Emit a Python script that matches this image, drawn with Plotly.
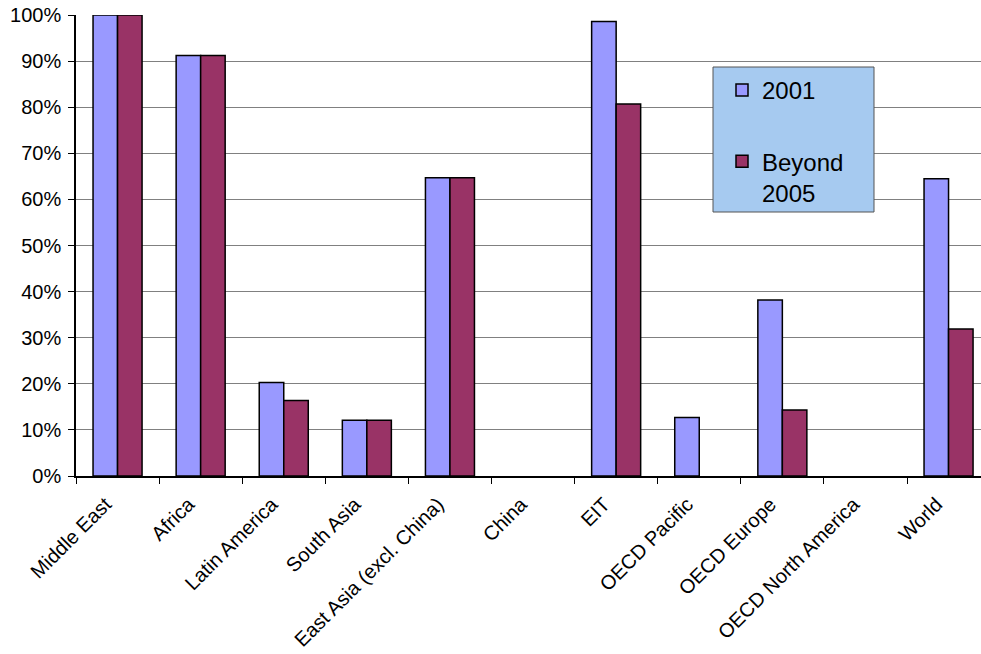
import plotly.graph_objects as go

regions = ["Middle East", "Africa", "Latin America", "South Asia",
           "East Asia (excl. China)", "China", "EIT", "OECD Pacific",
           "OECD Europe", "OECD North America", "World"]
share_2001 = [1.000, 0.912, 0.203, 0.121, 0.647, 0.0, 0.986, 0.127, 0.382, 0.0, 0.645]
share_beyond_2005 = [1.000, 0.912, 0.164, 0.121, 0.647, 0.0, 0.807, 0.0, 0.143, 0.0, 0.319]
series_names = ["2001", "Beyond<br>2005"]
y_ticks = [0.0, 0.1, 0.2, 0.3, 0.4, 0.5, 0.6, 0.7, 0.8, 0.9, 1.0]

FONT = "Liberation Sans, Arial, sans-serif"
colors = ["#9999FF", "#993366"]

# plot area in pixels
L, T, B, W, H = 76, 15, 178, 905, 461
CAT_W = 83.1


def px_x(px):
    return (px - L) / W


def px_y(py):
    return (T + H - py) / H


fig = go.Figure()
for i, (name, vals) in enumerate(zip(series_names, [share_2001, share_beyond_2005])):
    # zero shares are left empty rather than drawn as a flat outline
    fig.add_trace(go.Bar(
        x=regions, y=[v if v > 0 else None for v in vals],
        name=name, legendgroup=f"g{i}",
        marker=dict(color=colors[i], line=dict(color="black", width=1.5)),
    ))

# legend panel background (drawn as a shape so it can be sized freely)
fig.add_shape(type="rect", xref="paper", yref="paper",
              x0=px_x(713), x1=px_x(874), y0=px_y(212), y1=px_y(67),
              fillcolor="#A6CAF0", line=dict(color="#555555", width=1),
              layer="above")

fig.update_layout(
    width=981, height=654,
    margin=dict(l=L, r=981 - L - W, t=T, b=B),
    paper_bgcolor="white", plot_bgcolor="white",
    barmode="group", bargap=0.41, bargroupgap=0,
    font=dict(family=FONT, color="black", size=20),
    legend=dict(
        x=px_x(722), y=px_y(68),
        xanchor="left", yanchor="top",
        bgcolor="rgba(0,0,0,0)", borderwidth=0,
        font=dict(family=FONT, size=24, color="black"),
        tracegroupgap=37, valign="top", traceorder="grouped",
    ),
    showlegend=True,
)
fig.update_xaxes(
    type="category", range=[-0.5, -0.5 + W / CAT_W],
    showline=True, linecolor="black", linewidth=1.5,
    ticks="outside", tickson="boundaries", ticklen=6, tickcolor="black",
    tickangle=-45, tickfont=dict(size=20), showgrid=False,
    ticklabelstandoff=7, ticklabelshift=-12,
)
fig.update_yaxes(
    range=[0, 1], tickvals=y_ticks, tickformat=".0%",
    showline=True, linecolor="black", linewidth=1.5,
    ticks="outside", ticklen=6, tickcolor="black",
    showgrid=True, gridcolor="#808080", gridwidth=1,
    zeroline=False, tickfont=dict(size=20), ticklabelstandoff=3,
)

fig.write_html("out.html")
